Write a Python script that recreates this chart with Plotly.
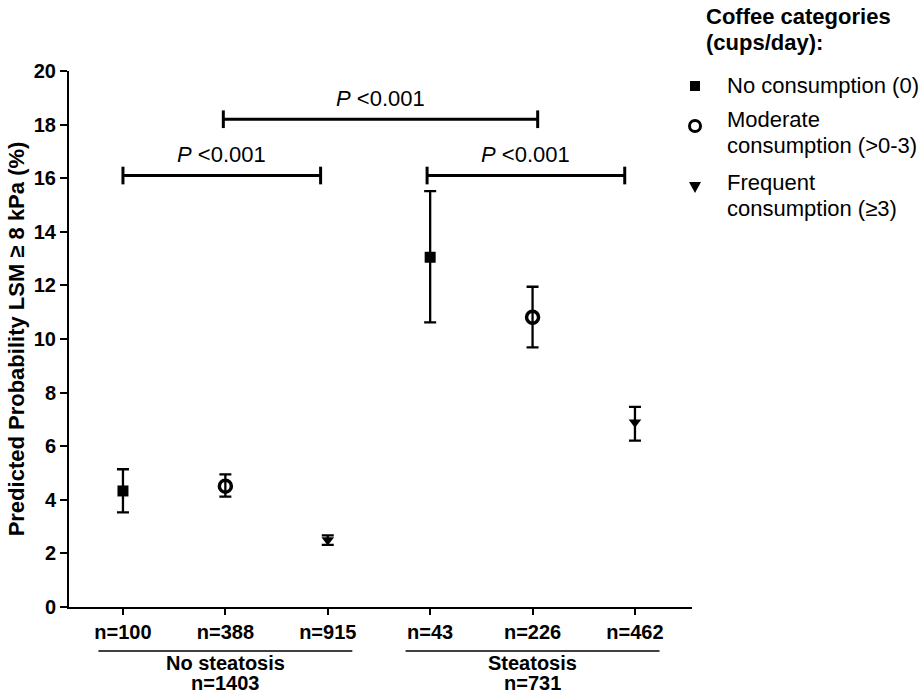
import plotly.graph_objects as go

# ---------------- data ----------------
x_pos = [0, 1, 2, 3, 4, 5]
tick_labels = ["n=100", "n=388", "n=915", "n=43", "n=226", "n=462"]

group_names = ["No steatosis", "Steatosis"]
group_n = ["n=1403", "n=731"]
group_centers = [1, 4]

series_names = ["No consumption (0)", "Moderate consumption (>0-3)", "Frequent consumption (≥3)"]
legend_lines = [["No consumption (0)"], ["Moderate", "consumption (>0-3)"], ["Frequent", "consumption (≥3)"]]
legend_title_lines = ["Coffee categories", "(cups/day):"]

no_x = [0, 3]
no_y = [4.33, 13.05]
no_hi = [5.14, 15.52]
no_lo = [3.53, 10.62]

mod_x = [1, 4]
mod_y = [4.51, 10.81]
mod_hi = [4.95, 11.95]
mod_lo = [4.12, 9.69]

freq_x = [2, 5]
freq_y = [2.50, 6.89]
freq_hi = [2.67, 7.47]
freq_lo = [2.32, 6.21]

# significance brackets: (x start, x end, y level, label)
br_x0 = [0, 0.98, 2.97]
br_x1 = [1.93, 4.05, 4.90]
br_y = [16.1, 18.2, 16.1]
br_label = ["<i>P</i> <0.001", "<i>P</i> <0.001", "<i>P</i> <0.001"]

# ---------------- layout helpers ----------------
FONT = "Arial, Liberation Sans, sans-serif"
W, H = 923, 694
ML, MR, MT, MB = 69, 231, 71, 87
PW, PH = W - ML - MR, H - MT - MB


def px_x(px):
    return (px - ML) / PW


def px_y(py):
    return (H - MB - py) / PH


fig = go.Figure()

symbols = ["square", "circle-open", "triangle-down"]
sizes = [11, 12, 11]
data = [(no_x, no_y, no_hi, no_lo), (mod_x, mod_y, mod_hi, mod_lo), (freq_x, freq_y, freq_hi, freq_lo)]
for name, (xs, ys, hi, lo), sym, sz in zip(series_names, data, symbols, sizes):
    fig.add_trace(go.Scatter(
        x=xs, y=ys, mode="markers", name=name, showlegend=False,
        marker=dict(symbol=sym, size=sz, color="black",
                    line=dict(color="black", width=3.5 if "open" in sym else 0)),
        error_y=dict(type="data", symmetric=False,
                     array=[h - v for h, v in zip(hi, ys)],
                     arrayminus=[v - l for v, l in zip(ys, lo)],
                     color="black", thickness=2.3, width=6),
        cliponaxis=False,
    ))

shapes = []
annotations = []
for x0, x1, y, lab in zip(br_x0, br_x1, br_y, br_label):
    shapes.append(dict(type="line", xref="x", yref="y", x0=x0, x1=x1, y0=y, y1=y,
                       line=dict(color="black", width=3)))
    for xe in (x0, x1):
        shapes.append(dict(type="line", xref="x", yref="y", x0=xe, x1=xe, y0=y - 0.33, y1=y + 0.33,
                           line=dict(color="black", width=3)))
    annotations.append(dict(x=(x0 + x1) / 2, y=y, xref="x", yref="y", text=lab, showarrow=False,
                            yanchor="middle", yshift=21, font=dict(family=FONT, size=22, color="black")))

# group underline + labels
for gc, gname, gn in zip(group_centers, group_names, group_n):
    shapes.append(dict(type="line", xref="x", yref="paper", x0=gc - 1.24, x1=gc + 1.24,
                       y0=px_y(651), y1=px_y(651), line=dict(color="black", width=1.5)))
    annotations.append(dict(x=gc, y=px_y(663), xref="x", yref="paper", text="<b>" + gname + "</b>",
                            showarrow=False, xanchor="center", yanchor="middle",
                            font=dict(family=FONT, size=20, color="black")))
    annotations.append(dict(x=gc, y=px_y(683), xref="x", yref="paper", text="<b>" + gn + "</b>",
                            showarrow=False, xanchor="center", yanchor="middle",
                            font=dict(family=FONT, size=20, color="black")))

# legend (manual): title, marker glyphs, item texts
for t, yy in zip(legend_title_lines, [17, 43]):
    annotations.append(dict(x=px_x(704), y=px_y(yy), xref="paper", yref="paper", text="<b>" + t + "</b>",
                            showarrow=False, xanchor="left", yanchor="middle",
                            font=dict(family=FONT, size=22, color="black")))
line_ys = [[85], [119, 145], [182, 208]]
for lines, ys in zip(legend_lines, line_ys):
    for t, yy in zip(lines, ys):
        annotations.append(dict(x=px_x(725), y=px_y(yy), xref="paper", yref="paper", text=t,
                                showarrow=False, xanchor="left", yanchor="middle",
                                font=dict(family=FONT, size=22, color="black")))

mx = px_x(695)
# square
shapes.append(dict(type="rect", xref="paper", yref="paper", xsizemode="pixel", ysizemode="pixel",
                   xanchor=mx, yanchor=px_y(86), x0=-5, x1=5, y0=-5, y1=5,
                   fillcolor="black", line=dict(width=0)))
# open circle
shapes.append(dict(type="circle", xref="paper", yref="paper", xsizemode="pixel", ysizemode="pixel",
                   xanchor=mx, yanchor=px_y(126), x0=-5.5, x1=5.5, y0=-5.5, y1=5.5,
                   fillcolor="rgba(0,0,0,0)", line=dict(color="black", width=3)))
# down triangle
shapes.append(dict(type="path", xref="paper", yref="paper", xsizemode="pixel", ysizemode="pixel",
                   xanchor=mx, yanchor=px_y(187), path="M -6 5 L 6 5 L 0 -6 Z",
                   fillcolor="black", line=dict(width=0)))

fig.update_layout(
    width=W, height=H,
    margin=dict(l=ML, r=MR, t=MT, b=MB, pad=0),
    plot_bgcolor="white", paper_bgcolor="white",
    font=dict(family=FONT, color="black"),
    xaxis=dict(range=[-0.527, 5.557], tickvals=x_pos, ticktext=tick_labels, automargin=False,
               showline=True, linewidth=2, linecolor="black", ticks="outside", ticklen=6,
               tickwidth=2, tickcolor="black", showgrid=False, zeroline=False,
               tickfont=dict(family=FONT, size=20, weight="bold", color="black")),
    yaxis=dict(range=[0, 20], tick0=0, dtick=2, showline=True, linewidth=2, linecolor="black",
               automargin=False,
               ticks="outside", ticklen=7, tickwidth=2, tickcolor="black", showgrid=False, zeroline=False,
               tickfont=dict(family=FONT, size=20, weight="bold", color="black"),
               title=dict(text="Predicted Probability LSM ≥ 8 kPa (%)", standoff=3,
                          font=dict(family=FONT, size=22, weight="bold", color="black"))),
    shapes=shapes,
    annotations=annotations,
)

fig.write_html("out.html", config={"displayModeBar": False},
               post_script="document.body.style.margin='0';document.body.style.overflow='hidden';")
